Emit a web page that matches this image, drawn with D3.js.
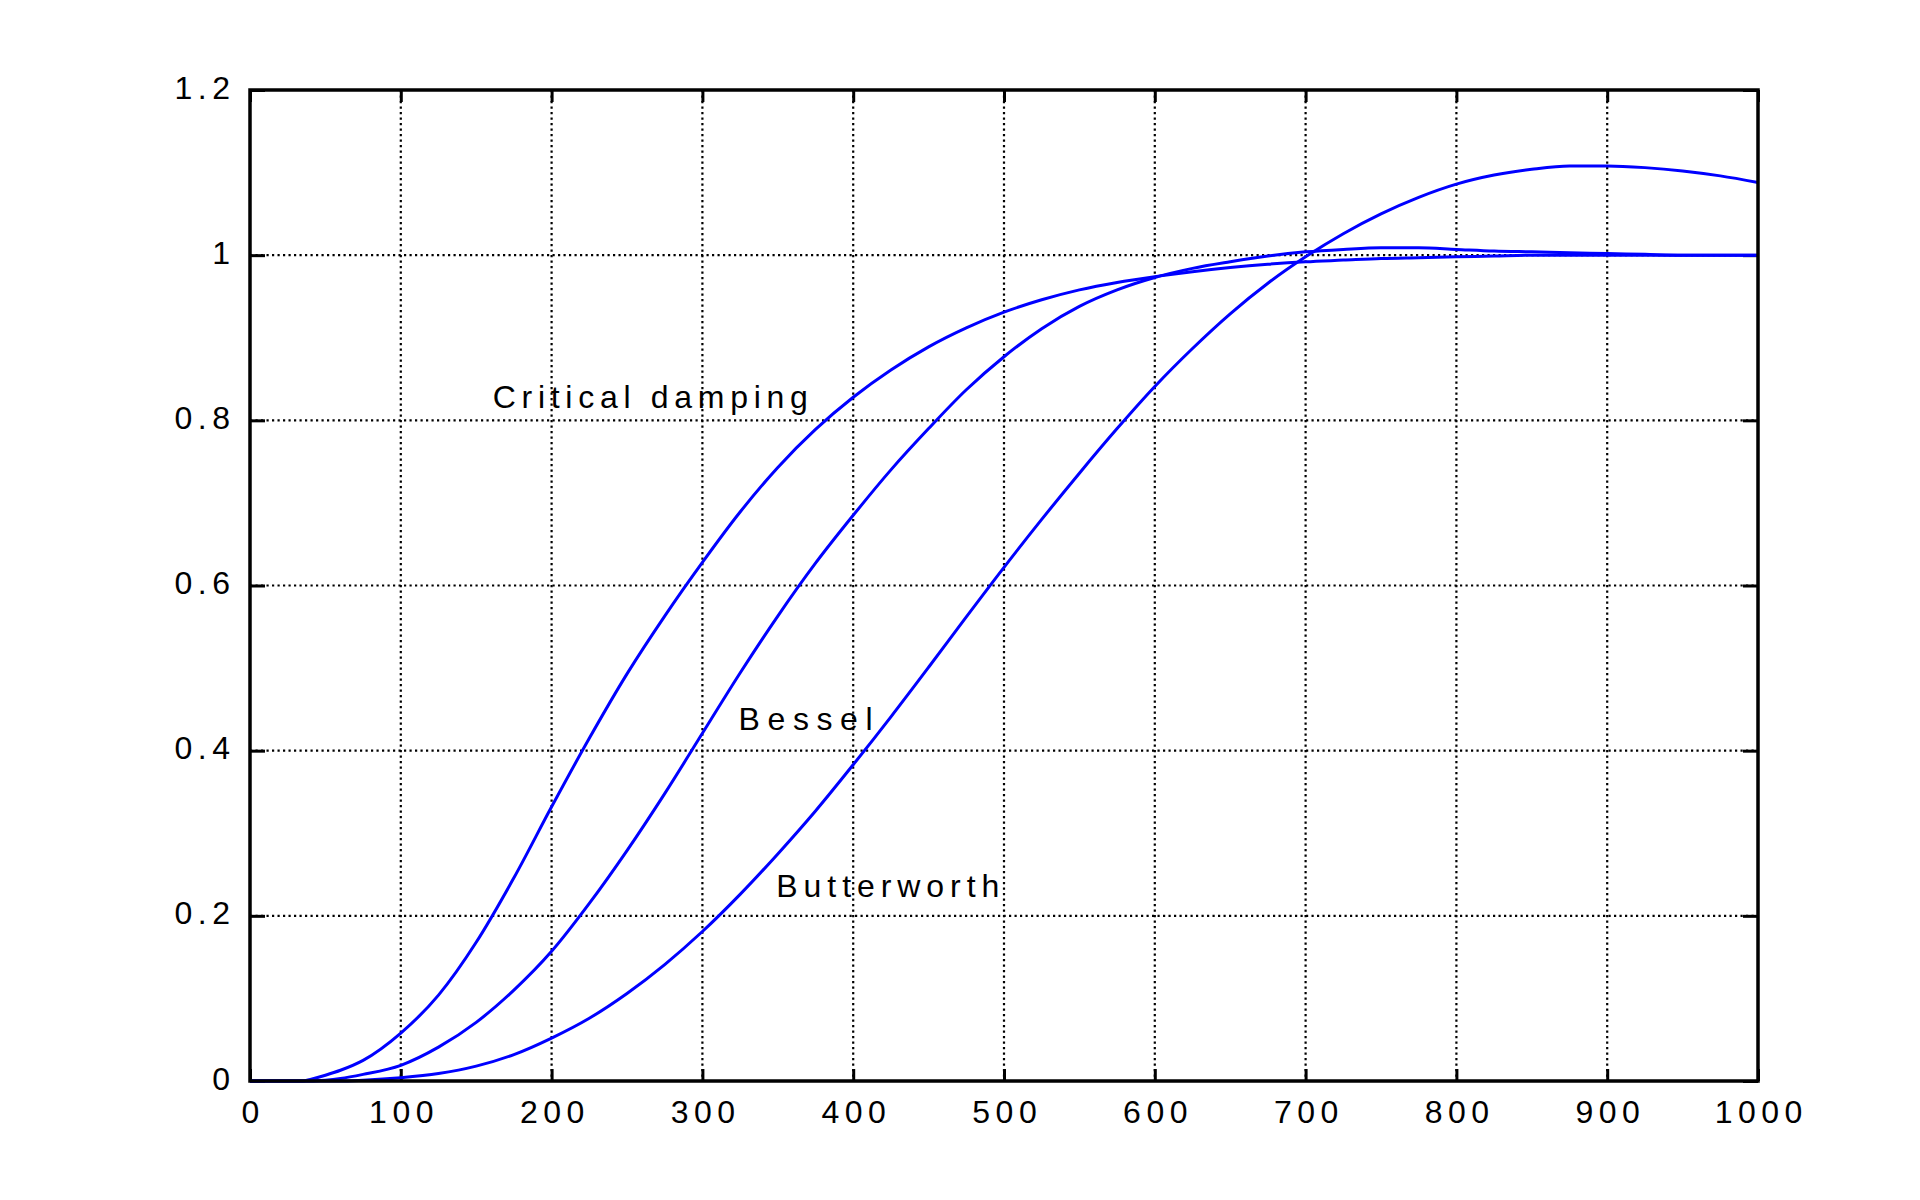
<!DOCTYPE html>
<html>
<head>
<meta charset="utf-8">
<script src="https://cdn.jsdelivr.net/npm/d3@7"></script>
<style>
  html, body { margin: 0; padding: 0; background: #fff; }
  svg { display: block; }
  text { font-family: "Liberation Sans", Arial, sans-serif; fill: #000; }
</style>
</head>
<body>
<svg id="chart" width="1920" height="1200"></svg>
<script>
// ---- data ----
const time = [0, 25, 35, 40, 50, 60, 75, 100, 125, 150, 175, 200, 225, 250, 275, 300, 325, 350, 375, 400,
  425, 450, 475, 500, 525, 550, 575, 600, 625, 650, 675, 700, 725, 750, 775, 800, 825, 850,
  875, 900, 925, 950, 975, 1000];

const criticalDamping = [0, 0, 0, 0.002, 0.007, 0.013, 0.025, 0.058, 0.104, 0.168, 0.246, 0.332, 0.415, 0.493,
  0.563, 0.628, 0.689, 0.743, 0.789, 0.828, 0.861, 0.889, 0.912, 0.931, 0.946, 0.958, 0.967, 0.974,
  0.980, 0.985, 0.989, 0.992, 0.994, 0.996, 0.997, 0.998, 0.999, 1.0, 1.0, 1.0, 1.0, 1.0, 1.0, 1.0];

const bessel = [0, 0, 0, 0, 0.001, 0.003, 0.008, 0.019, 0.041, 0.071, 0.110, 0.157, 0.215, 0.279, 0.348,
  0.421, 0.494, 0.563, 0.627, 0.685, 0.740, 0.790, 0.837, 0.877, 0.911, 0.938, 0.958, 0.973, 0.984,
  0.992, 0.999, 1.004, 1.007, 1.009, 1.009, 1.007, 1.005, 1.004, 1.003, 1.002, 1.001, 1.0, 1.0, 1.0];

const butterworth = [0, 0, 0, 0, 0, 0, 0.001, 0.004, 0.009, 0.018, 0.032, 0.052, 0.076, 0.106, 0.141,
  0.181, 0.226, 0.275, 0.327, 0.383, 0.441, 0.501, 0.562, 0.622, 0.680, 0.736, 0.790, 0.841, 0.887,
  0.929, 0.966, 0.998, 1.026, 1.050, 1.070, 1.086, 1.097, 1.104, 1.108, 1.108, 1.106, 1.102, 1.096, 1.088];

const xTicks = [0, 100, 200, 300, 400, 500, 600, 700, 800, 900, 1000];
const yTicks = [0, 0.2, 0.4, 0.6, 0.8, 1, 1.2];
const yTickLabels = ["0", "0.2", "0.4", "0.6", "0.8", "1", "1.2"];

const annotations = [
  { text: "Critical damping", x: 161, y: 0.815, width: 315 },
  { text: "Bessel", x: 324, y: 0.425, width: 134 },
  { text: "Butterworth", x: 349, y: 0.223, width: 223 }
];

// ---- layout ----
const plotLeft = 250, plotRight = 1758, plotTop = 90, plotBottom = 1081;
const svg = d3.select("#chart");
const x = d3.scaleLinear().domain([0, 1000]).range([plotLeft, plotRight]);
const y = d3.scaleLinear().domain([0, 1.2]).range([plotBottom, plotTop]);
const LS = 5.5; // letter spacing of tick labels

// grid
const grid = svg.append("g");
grid.selectAll("line.vx").data(xTicks.slice(1, -1)).join("line")
  .attr("x1", d => x(d)).attr("x2", d => x(d))
  .attr("y1", plotTop).attr("y2", plotBottom)
  .attr("stroke", "#000").attr("stroke-width", 2.2).attr("stroke-dasharray", "2.2,3.3");
grid.selectAll("line.hy").data(yTicks.slice(1, -1)).join("line")
  .attr("y1", d => y(d)).attr("y2", d => y(d))
  .attr("x1", plotLeft).attr("x2", plotRight)
  .attr("stroke", "#000").attr("stroke-width", 2.2).attr("stroke-dasharray", "2.2,3.3");

// axes (ticks inward on all four sides)
function styleAxis(g) {
  g.select(".domain").remove();
  g.selectAll(".tick line").attr("stroke", "#000").attr("stroke-width", 3);
}
const xb = svg.append("g").attr("transform", `translate(0,${plotBottom})`)
  .call(d3.axisBottom(x).tickValues(xTicks).tickSize(-12).tickFormat(d => String(d)))
  .call(styleAxis);
xb.selectAll(".tick text")
  .attr("y", 42).attr("dy", 0).attr("dx", LS / 2)
  .style("font-size", "32px").style("letter-spacing", LS + "px")
  .style("font-family", "'Liberation Sans', Arial, sans-serif").attr("fill", "#000");
svg.append("g").attr("transform", `translate(0,${plotTop})`)
  .call(d3.axisTop(x).tickValues(xTicks).tickSize(-12).tickFormat(""))
  .call(styleAxis);
const yl = svg.append("g").attr("transform", `translate(${plotLeft},0)`)
  .call(d3.axisLeft(y).tickValues(yTicks).tickSize(-15).tickFormat((d, i) => yTickLabels[i]))
  .call(styleAxis);
yl.selectAll(".tick text")
  .attr("x", -20 + LS).attr("dy", 8)
  .style("font-size", "32px").style("letter-spacing", LS + "px")
  .style("font-family", "'Liberation Sans', Arial, sans-serif").attr("fill", "#000");
svg.append("g").attr("transform", `translate(${plotRight},0)`)
  .call(d3.axisRight(y).tickValues(yTicks).tickSize(-15).tickFormat(""))
  .call(styleAxis);

// curves
const line = d3.line().x((d, i) => x(time[i])).y(d => y(d)).curve(d3.curveMonotoneX);
[criticalDamping, bessel, butterworth].forEach(series => {
  svg.append("path").datum(series)
    .attr("d", line)
    .attr("fill", "none").attr("stroke", "#0000ff").attr("stroke-width", 3)
    .attr("stroke-linejoin", "round");
});

// frame
svg.append("rect").attr("x", plotLeft).attr("y", plotTop)
  .attr("width", plotRight - plotLeft).attr("height", plotBottom - plotTop)
  .attr("fill", "none").attr("stroke", "#000").attr("stroke-width", 3.5);

// annotations
svg.selectAll("text.ann").data(annotations).join("text")
  .attr("class", "ann")
  .attr("x", d => x(d.x)).attr("y", d => y(d.y))
  .attr("textLength", d => d.width).attr("lengthAdjust", "spacing")
  .style("font-size", "32px")
  .text(d => d.text);
</script>
</body>
</html>
